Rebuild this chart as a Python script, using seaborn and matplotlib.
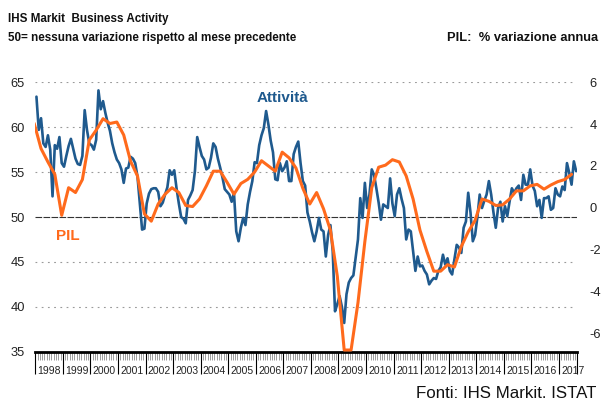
import numpy as np
import pandas as pd
import matplotlib
matplotlib.use("Agg")
import matplotlib.pyplot as plt
import matplotlib.transforms as mtransforms
import seaborn as sns

# ---------------- data ----------------
years = list(range(1998, 2018))

# IHS Markit Business Activity, monthly, Jan 1998 - Aug 2017
activity = [
    63.4, 59.7, 61.0, 58.2, 57.8, 59.1, 57.5, 52.3, 58.0, 57.6, 58.9, 56.0,  # 1998
    55.6, 56.8, 57.9, 58.7, 57.6, 56.5, 55.9, 55.8, 56.8, 61.9, 59.7, 58.2,  # 1999
    58.0, 57.5, 58.6, 64.1, 62.0, 62.9, 61.6, 60.5, 59.6, 58.2, 57.2, 56.4,  # 2000
    56.0, 55.3, 53.8, 55.4, 55.5, 56.7, 56.5, 56.0, 54.5, 51.5, 48.6, 48.7,  # 2001
    51.5, 52.6, 53.1, 53.2, 53.2, 52.8, 51.2, 51.6, 52.5, 53.3, 55.2, 54.7,  # 2002
    55.2, 53.2, 51.5, 50.0, 49.8, 49.3, 51.9, 52.4, 53.0, 55.1, 58.9, 57.8,  # 2003
    56.8, 56.4, 55.3, 55.5, 56.6, 58.2, 57.8, 56.5, 55.5, 54.4, 53.1, 52.8,  # 2004
    52.5, 51.7, 52.7, 48.4, 47.3, 48.8, 49.9, 49.1, 51.4, 52.8, 54.0, 56.1,  # 2005
    56.0, 58.0, 59.1, 59.9, 61.8, 60.3, 58.5, 57.2, 54.2, 54.1, 56.0, 55.1,  # 2006
    55.5, 56.2, 54.0, 54.0, 57.0, 57.8, 58.4, 56.0, 54.0, 53.5, 50.5, 49.5,  # 2007
    48.3, 47.3, 48.4, 49.9, 48.6, 48.4, 45.6, 48.0, 49.1, 46.2, 39.5, 40.3,  # 2008
    41.2, 40.0, 38.2, 41.4, 42.7, 43.2, 43.5, 45.5, 47.5, 52.1, 49.9, 53.8,  # 2009
    51.0, 52.5, 55.3, 54.7, 53.2, 51.6, 49.7, 51.4, 51.2, 51.0, 54.3, 51.5,  # 2010
    50.1, 52.5, 53.2, 52.0, 51.0, 47.5, 48.6, 48.4, 46.2, 44.0, 45.6, 44.5,  # 2011
    44.6, 44.0, 43.6, 42.5, 42.9, 43.2, 43.1, 44.0, 44.4, 45.8, 44.7, 45.4,  # 2012
    44.0, 43.6, 45.3, 46.9, 46.6, 46.0, 48.8, 49.5, 52.7, 50.5, 47.3, 48.0,  # 2013
    50.0, 52.5, 51.0, 51.8, 52.5, 54.0, 52.5, 50.5, 48.8, 51.0, 51.7, 49.5,  # 2014
    51.2, 50.1, 51.7, 53.2, 52.7, 53.2, 53.5, 51.9, 54.7, 53.6, 53.6, 55.3,  # 2015
    53.5, 52.9, 51.2, 51.9, 49.9, 52.1, 52.1, 52.3, 50.8, 51.0, 53.2, 52.5,  # 2016
    52.3, 53.4, 53.0, 56.0, 54.9, 53.6, 56.2, 55.1,                          # 2017
]

# PIL (GDP), % y/y, quarterly, Q4 1997 - Q2 2017
pil = [
    4.04,
    2.83, 2.19, 1.60, -0.36,   # 1998
    0.96, 0.73, 1.35, 3.24,    # 1999
    3.71, 4.26, 4.03, 4.10,    # 2000
    3.48, 2.22, 1.52, -0.29,   # 2001
    -0.64, 0.18, 0.65, 0.96,   # 2002
    0.73, 0.11, 0.06, 0.42,    # 2003
    1.05, 1.75, 1.75, 1.22,    # 2004
    0.65, 1.16, 1.36, 1.71,    # 2005
    2.25, 2.00, 1.75, 2.66,    # 2006
    2.39, 1.90, 0.93, 0.18,    # 2007
    0.73, -0.05, -1.07, -3.27, # 2008
    -6.80, -6.80, -4.54, -1.61,# 2009
    0.96, 1.94, 2.04, 2.30,    # 2010
    2.19, 1.52, 0.42, -1.07,   # 2011
    -2.09, -3.03, -3.03, -2.72,# 2012
    -2.83, -1.85, -1.15, -0.60,# 2013
    0.42, 0.31, 0.11, 0.14,    # 2014
    0.42, 0.81, 0.81, 1.05,    # 2015
    1.12, 0.89, 1.09, 1.25,    # 2016
    1.35, 1.60,                # 2017
]

left_ticks = [35, 40, 45, 50, 55, 60, 65]
right_ticks = [-6, -4, -2, 0, 2, 4, 6]

BLUE = "#1F5A8E"
ORANGE = "#FF6A1C"

# month index 0 = Jan 1998 ; quarterly value placed at last month of quarter
df_act = pd.DataFrame({"m": np.arange(len(activity)), "v": activity})
df_pil = pd.DataFrame({"m": np.arange(len(pil)) * 3 - 1, "v": pil})

# ---------------- figure ----------------
sns.set_theme(style="white")
plt.rcParams["font.family"] = ["Liberation Sans", "DejaVu Sans"]
plt.rcParams["axes.unicode_minus"] = False

W, H = 602, 400
fig = plt.figure(figsize=(W / 100, H / 100), dpi=100)
ax_l, ax_r, ax_t, ax_b = 35.3, 577.3, 82.3, 351.7
ax = fig.add_axes([ax_l / W, 1 - ax_b / H, (ax_r - ax_l) / W, (ax_b - ax_t) / H])

sns.lineplot(data=df_act, x="m", y="v", ax=ax, color=BLUE, linewidth=1.9)
ax.set_xlim(-0.5, len(activity) - 0.5)
ax.set_ylim(35, 65)

# grid lines
for v in left_ticks[1:]:
    if v == 50:
        ax.axhline(v, color="#333333", lw=0.8, dashes=(6, 1.2), zorder=0.5)
    else:
        ax.axhline(v, xmax=0.995, color="#9a9a9a", lw=0.8, dashes=(1.6, 4), zorder=0.5)

ax2 = ax.twinx()
sns.lineplot(data=df_pil, x="m", y="v", ax=ax2, color=ORANGE, linewidth=2.2)
ax2.set_ylim(-6.88, 5.80)
ax2.set_xlim(-0.5, len(activity) - 0.5)

for a in (ax, ax2):
    a.set_xlabel("")
    a.set_ylabel("")
    for s in ("top", "left", "right"):
        a.spines[s].set_visible(False)
ax2.spines["bottom"].set_visible(False)

ax.spines["bottom"].set_color("black")
ax.spines["bottom"].set_linewidth(2.0)

# y ticks
ax.set_yticks(left_ticks)
ax.set_yticklabels([str(t) for t in left_ticks])
ax.tick_params(axis="y", length=0, pad=7.5, labelsize=9.3, labelcolor="#222222")
ax2.set_yticks(right_ticks)
ax2.set_yticklabels([str(t) for t in right_ticks])
ax2.tick_params(axis="y", length=0, pad=9, labelsize=9.3, labelcolor="#222222")
ax2.set_xticks([])

# x ticks: year boundaries (major), month boundaries (minor)
n = len(activity)
ax.set_xticks([12 * k - 0.5 for k in range(len(years))] + [n - 0.5])
ax.set_xticklabels([])
ax.set_xticks(np.arange(-0.5, n, 1.0), minor=True)
ax.tick_params(axis="x", which="major", direction="out", length=16, width=0.8,
               color="black", bottom=True)
ax.tick_params(axis="x", which="minor", direction="out", length=6, width=0.45,
               color="#666666", bottom=True)

trans = mtransforms.blended_transform_factory(ax.transData, ax.transAxes)
for k, yr in enumerate(years):
    ax.text(12 * k + 5.5, -19.5 / (ax_b - ax_t), str(yr), transform=trans,
            ha="center", va="center", fontsize=7.5, color="#222222")

# texts
fig.text(8 / W, 1 - 19 / H, "IHS Markit  Business Activity", fontsize=8.4,
         fontweight="bold", ha="left", va="center", color="#111111")
fig.text(8 / W, 1 - 38 / H, "50= nessuna variazione rispetto al mese precedente",
         fontsize=8.4, fontweight="bold", ha="left", va="center", color="#111111")
fig.text(598 / W, 1 - 38 / H, "PIL:  % variazione annua", fontsize=9.3,
         fontweight="bold", ha="right", va="center", color="#111111")
fig.text(257 / W, 1 - 98 / H, "Attività", fontsize=11, fontweight="bold",
         ha="left", va="center", color=BLUE)
fig.text(56 / W, 1 - 236 / H, "PIL", fontsize=11, fontweight="bold",
         ha="left", va="center", color=ORANGE)
fig.text(596 / W, 2.5 / H, "Fonti: IHS Markit. ISTAT", fontsize=12.2,
         ha="right", va="baseline", color="#111111")

fig.savefig("out.png", dpi=100)
